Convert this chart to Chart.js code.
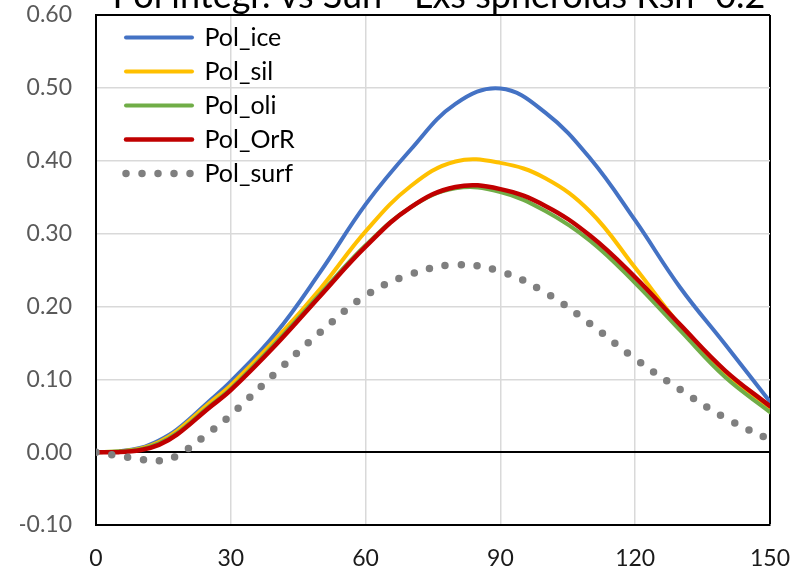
<!DOCTYPE html>
<html>
<head>
<meta charset="utf-8">
<script src="https://cdn.jsdelivr.net/npm/chart.js@4.4.1/dist/chart.umd.min.js"></script>
<style>
  html, body { margin: 0; padding: 0; background: #fff; }
  #wrap { width: 790px; height: 568px; }
</style>
</head>
<body>
<div id="wrap"><canvas id="polChart" width="790" height="568"></canvas></div>
<script>
// Chart data
const chartTitle = "Pol integr. vs Sun - Lxs spheroids Rsh=0.2";
const angles   = [0, 5, 10, 14, 18, 25, 30, 40, 50, 60, 70, 80, 90, 100, 110, 120, 130, 140, 150];
const polIce   = [0, 0.001, 0.006, 0.016, 0.031, 0.069, 0.097, 0.163, 0.248, 0.340, 0.415, 0.478, 0.499, 0.466, 0.403, 0.318, 0.226, 0.148, 0.069];
const polSil   = [0, 0.001, 0.005, 0.014, 0.029, 0.066, 0.092, 0.155, 0.225, 0.303, 0.365, 0.399, 0.397, 0.376, 0.330, 0.253, 0.174, 0.106, 0.061];
const polOli   = [0, 0.001, 0.004, 0.012, 0.026, 0.062, 0.087, 0.150, 0.218, 0.284, 0.336, 0.362, 0.357, 0.331, 0.290, 0.232, 0.167, 0.103, 0.055];
const polOrR   = [0, 0.000, 0.003, 0.010, 0.024, 0.060, 0.085, 0.147, 0.215, 0.282, 0.336, 0.364, 0.361, 0.338, 0.297, 0.240, 0.175, 0.112, 0.063];
const polSurf  = [0, -0.005, -0.010, -0.012, -0.005, 0.026, 0.051, 0.109, 0.165, 0.215, 0.244, 0.257, 0.248, 0.219, 0.176, 0.128, 0.086, 0.047, 0.017];
const xTicks = [0, 30, 60, 90, 120, 150];
const yTicks = [-0.1, 0, 0.1, 0.2, 0.3, 0.4, 0.5, 0.6];

const toPoints = (vals) => angles.map((a, i) => ({ x: a, y: vals[i] }));

const lineSet = (label, vals, color, width, order) => ({
    label: label,
    data: toPoints(vals),
    borderColor: color,
    backgroundColor: color,
    borderWidth: width,
    borderCapStyle: "round",
    borderJoinStyle: "round",
    pointRadius: 0,
    fill: false,
    tension: 0.4,
    order: order
});

const surfSet = lineSet("Pol_surf", polSurf, "#7f7f7f", 7.5, 1);
surfSet.borderDash = [0, 16];

// title sits partly above the canvas like in the reference
const cutTitle = {
    id: "cutTitle",
    afterDraw(chart) {
        const { ctx, chartArea } = chart;
        ctx.save();
        ctx.font = "36px Lato";
        ctx.fillStyle = "#000";
        ctx.textAlign = "center";
        ctx.textBaseline = "alphabetic";
        ctx.fillText(chartTitle, (chartArea.left + chartArea.right) / 2 + 6, 8);
        ctx.restore();
    }
};

// move the legend a bit inside the plot area
const legendNudge = {
    id: "legendNudge",
    afterLayout(chart) {
        if (!chart.legend) return;
        chart.legend.left += 21;
        chart.legend.right += 21;
        chart.legend.top += 16;
        chart.legend.bottom += 16;
    }
};

const gridColor = "#d9d9d9";

new Chart(document.getElementById("polChart"), {
    type: "line",
    data: {
        datasets: [
            lineSet("Pol_ice", polIce, "#4472c4", 4, 5),
            lineSet("Pol_sil", polSil, "#ffc000", 4, 4),
            lineSet("Pol_oli", polOli, "#70ad47", 4, 3),
            lineSet("Pol_OrR", polOrR, "#c00000", 4.5, 2),
            surfSet
        ]
    },
    options: {
        responsive: false,
        animation: false,
        devicePixelRatio: 1,
        layout: { padding: { top: 15, left: 20, right: 20, bottom: 0 } },
        plugins: {
            tooltip: { enabled: false },
            title: { display: false },
            legend: {
                position: "chartArea",
                align: "start",
                labels: {
                    usePointStyle: true,
                    pointStyleWidth: 66,
                    padding: 9,
                    color: "#000",
                    font: { family: "Lato", size: 25 },
                    generateLabels: (chart) => chart.data.datasets.map((ds, i) => ({
                        text: ds.label,
                        fillStyle: ds.borderColor,
                        strokeStyle: ds.borderColor,
                        fontColor: "#000",
                        lineWidth: ds.borderWidth,
                        lineDash: ds.borderDash || [],
                        lineCap: "round",
                        pointStyle: "line",
                        hidden: false,
                        datasetIndex: i
                    }))
                }
            }
        },
        scales: {
            x: {
                type: "linear",
                min: 0,
                max: 150,
                afterBuildTicks: (scale) => { scale.ticks = xTicks.map(v => ({ value: v })); },
                afterFit: (scale) => {
                    scale.height = 43;
                    scale.paddingLeft = 0;
                    scale.paddingRight = 0;
                },
                ticks: {
                    padding: 20,
                    color: "#1a1a1a",
                    font: { family: "Lato", size: 23 },
                    maxRotation: 0
                },
                grid: {
                    drawTicks: false,
                    color: (ctx) => ctx.tick && ctx.tick.value === 150 ? "#000" : gridColor,
                    lineWidth: (ctx) => ctx.tick && ctx.tick.value === 150 ? 2 : 1.5
                },
                border: { color: "#000", width: 2 }
            },
            y: {
                min: -0.1,
                max: 0.6,
                afterBuildTicks: (scale) => { scale.ticks = yTicks.map(v => ({ value: v })); },
                afterFit: (scale) => {
                    scale.width = 76;
                    scale.paddingTop = 0;
                    scale.paddingBottom = 0;
                },
                ticks: {
                    padding: 24,
                    color: "#595959",
                    font: { family: "Lato", size: 23 },
                    callback: (v) => Number(v).toFixed(2)
                },
                grid: {
                    drawTicks: false,
                    color: (ctx) => {
                        if (!ctx.tick) return gridColor;
                        const v = Math.round(ctx.tick.value * 100);
                        return (v === 0 || v === 60) ? "#000" : gridColor;
                    },
                    lineWidth: (ctx) => {
                        if (!ctx.tick) return 1.5;
                        const v = Math.round(ctx.tick.value * 100);
                        return (v === 0 || v === 60) ? 2 : 1.5;
                    }
                },
                border: { color: "#000", width: 2 }
            }
        }
    },
    plugins: [cutTitle, legendNudge]
});
</script>
</body>
</html>
